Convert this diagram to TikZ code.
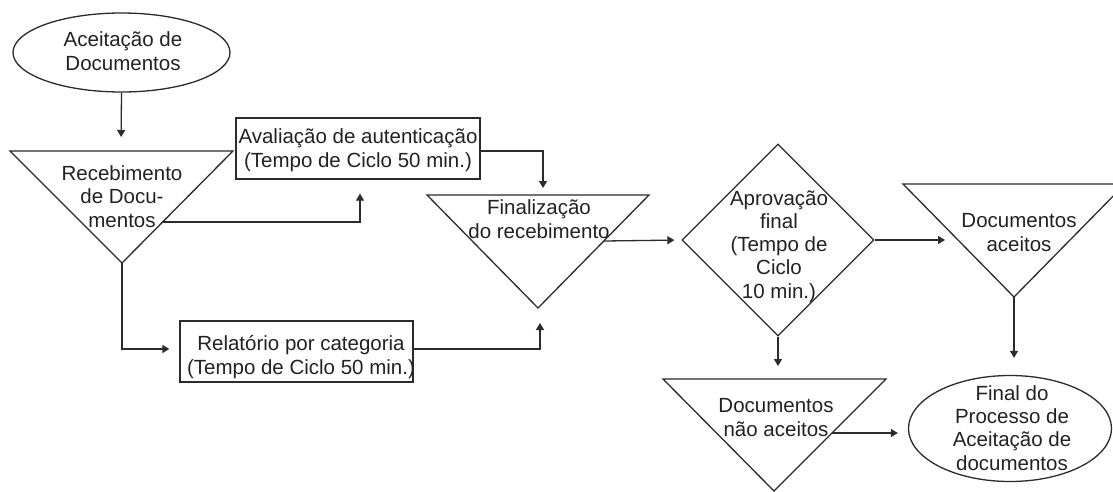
\documentclass[tikz,border=0pt]{standalone}
\usepackage{fontspec}
\setmainfont{Liberation Sans}
\usetikzlibrary{shapes.geometric,arrows.meta}
\definecolor{lc}{HTML}{2B2B2B}
\definecolor{tc}{HTML}{222222}
\begin{document}
\begin{tikzpicture}[x=1pt,y=-1pt,
  shp/.style={draw=lc, line width=1.3pt, inner sep=0pt},
  lbl/.style={font=\fontsize{20.5}{23.2}\selectfont, text=tc, align=center, inner sep=0pt, anchor=base},
  arr/.style={draw=lc, line width=1.3pt, -{Triangle[length=7pt,width=8pt]}}]
\useasboundingbox[fill=white] (0,0) rectangle (1113,491);

% start ellipse
\node[shp, ellipse, minimum width=217pt, minimum height=79pt] (e1) at (121.5,52.5) {};
\node[lbl] (e1t) at (123,70) {Aceitação de\\Documentos};

% triangle 1
\coordinate (t1l) at (10,151);
\coordinate (t1r) at (233,151);
\coordinate (t1b) at (122,263);
\coordinate (t1n) at (121,151);
\coordinate (t1e) at (163,222);
\draw[shp] (t1l) -- (t1r) -- (t1b) -- cycle;
\node[lbl] (t1t) at (122,227) {Recebimento\\de Docu-\\mentos};

% box 1
\node[shp, rectangle, minimum width=244pt, minimum height=61pt] (b1) at (358,148.5) {};
\node[lbl] (b1t) at (358,167) {Avaliação de autenticação\\(Tempo de Ciclo 50 min.)};
\coordinate (b1o) at (480,151);

% triangle 2
\coordinate (t2l) at (427,195);
\coordinate (t2r) at (649,195);
\coordinate (t2b) at (538,308);
\coordinate (t2n) at (543,195);
\coordinate (t2s) at (540,308);
\coordinate (t2e) at (604,241);
\draw[shp] (t2l) -- (t2r) -- (t2b) -- cycle;
\node[lbl] (t2t) at (539,238) {Finalização\\do recebimento};

% box 2
\node[shp, rectangle, minimum width=233pt, minimum height=61pt] (b2) at (296.5,351.5) {};
\node[lbl] (b2t) at (301,374) {Relatório por categoria\\(Tempo de Ciclo 50 min.)};
\coordinate (b2o) at (413,349);

% diamond
\node[shp, diamond, minimum width=192pt, minimum height=192pt, aspect=1] (d) at (778,240) {};
\node[lbl] (dt) at (779,298) {Aprovação\\final\\(Tempo de\\Ciclo\\10 min.)};

% triangle 3
\coordinate (t3l) at (903,184);
\coordinate (t3r) at (1125,184);
\coordinate (t3b) at (1014,297);
\coordinate (t3e) at (959,240);
\draw[shp] (t3l) -- (t3r) -- (t3b) -- cycle;
\node[lbl] (t3t) at (1019,251) {Documentos\\aceitos};

% triangle 4
\coordinate (t4l) at (663,379);
\coordinate (t4r) at (886,379);
\coordinate (t4b) at (774,491);
\coordinate (t4n) at (778,379);
\coordinate (t4e) at (832,433);
\draw[shp] (t4l) -- (t4r) -- (t4b) -- cycle;
\node[lbl] (t4t) at (776,436) {Documentos\\não aceitos};

% end ellipse
\node[shp, ellipse, minimum width=203pt, minimum height=106pt] (e2) at (1010,428.5) {};
\node[lbl] (e2t) at (1012,470) {Final do\\Processo de\\Aceitação de\\documentos};

% connectors
\draw[arr, shorten >=14pt] (e1.south) -- (t1n);
\draw[arr, shorten >=14pt] (t1e) -| ([xshift=2pt]b1.south);
\draw[arr, shorten >=7pt] (b1o) -| (t2n);
\draw[arr, shorten >=7pt] (t2e) -- (d.west);
\draw[arr, shorten >=10pt] (t1b) |- (b2.west |- b2o);
\draw[arr, shorten >=15pt] (b2o) -| (t2s);
\draw[arr, shorten >=14pt] (d.east) -- (t3e);
\draw[arr, shorten >=17pt] (t3b) -- (t3b |- e2.north);
\draw[arr, shorten >=13pt] (d.south) -- (t4n);
\draw[arr, shorten >=10pt] (t4e) -- (t4e -| e2.west);
\end{tikzpicture}
\end{document}
